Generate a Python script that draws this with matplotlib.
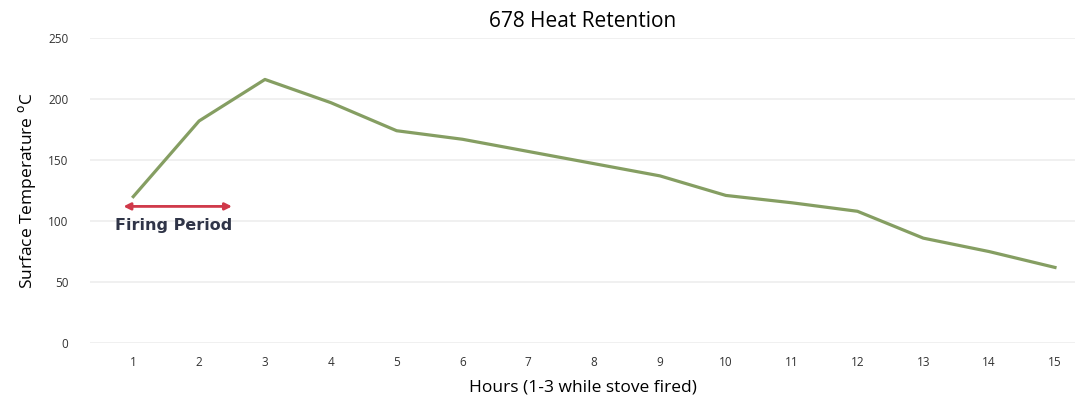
import matplotlib.pyplot as plt

# データ
hours = list(range(1, 16))
temps = [120, 182, 216, 197, 174, 167, 157, 147, 137, 121, 115, 108, 86, 75, 62]
y_ticks = [0, 50, 100, 150, 200, 250]
firing_start, firing_end, firing_level = 0.85, 2.5, 112

plt.rcParams['font.family'] = ['Open Sans', 'DejaVu Sans']

fig = plt.figure(figsize=(10.9, 4.08), dpi=100)
ax = fig.add_axes([0.083, 0.159, 0.903, 0.748])

ax.plot(hours, temps, color='#859e62', linewidth=2.3, solid_joinstyle='round')

# 加熱期間の矢印
ax.annotate('', xy=(firing_start, firing_level), xytext=(firing_end, firing_level),
            arrowprops=dict(arrowstyle='<|-|>', color='#d0394a', lw=2,
                            mutation_scale=10, shrinkA=0, shrinkB=0))
ax.text(0.73, firing_level - 16, 'Firing Period', family='DejaVu Sans',
        ha='left', va='center', fontsize=11.5, fontweight='bold', color='#2f3447')

ax.set_xlim(0.35, 15.3)
ax.set_ylim(0, 250)
ax.set_xticks(hours)
ax.set_yticks(y_ticks)
ax.tick_params(length=0, labelsize=8.5, labelcolor='#333333', pad=9)
ax.tick_params(axis='y', pad=16)
ax.grid(axis='y', color='#eeeeee', linewidth=1.2)
ax.set_axisbelow(True)
for s in ax.spines.values():
    s.set_visible(False)

ax.set_title('678 Heat Retention', fontsize=15, pad=8)
ax.set_xlabel('Hours (1-3 while stove fired)', fontsize=12.5, labelpad=8)
ax.set_ylabel('Surface Temperature $^{\\mathrm{o}}$C', fontsize=12.5, labelpad=7)

fig.savefig('out.png', dpi=100)
